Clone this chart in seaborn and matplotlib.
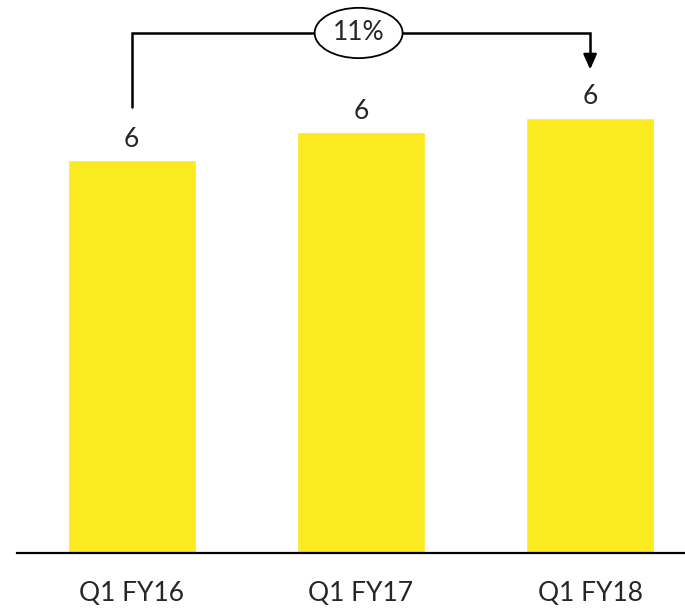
import matplotlib
matplotlib.use("Agg")
import matplotlib.pyplot as plt
import seaborn as sns
import pandas as pd

# Data
quarters = ["Q1 FY16", "Q1 FY17", "Q1 FY18"]
values = [5.6, 6.0, 6.2]
growth_label = "11%"

df = pd.DataFrame({"quarter": quarters, "value": values})

sns.set_style("white")
plt.rcParams["font.family"] = ["Lato", "DejaVu Sans"]

fig = plt.figure(figsize=(6.85, 6.12), dpi=100)
ax = fig.add_axes([0.025, 0.0964, 0.975, 0.9036])

sns.barplot(data=df, x="quarter", y="value", color="#FBEA1F",
            saturation=1, width=0.56, ax=ax)

ax.set_xlim(-0.5, 2.414)
ax.set_ylim(0, 7.88)

# value labels
for i, v in enumerate(values):
    ax.text(i, v + 0.12, f"{v:.0f}", ha="center", va="bottom", fontsize=19)

# growth bracket
y_top = 7.41
ax.plot([0, 0, 2, 2], [6.35, y_top, y_top, 7.0], color="black", lw=1.8,
        solid_joinstyle="miter", clip_on=False)
ax.annotate("", xy=(2, 6.85), xytext=(2, 7.1),
            arrowprops=dict(arrowstyle="-|>,head_length=0.9,head_width=0.4",
                            color="black", lw=1.8), annotation_clip=False)
ax.text(0.99, y_top, growth_label, ha="center", va="center", fontsize=19,
        bbox=dict(boxstyle="ellipse,pad=0.2", fc="white", ec="black", lw=1.3))

sns.despine(ax=ax, left=True, top=True, right=True)
ax.spines["bottom"].set_linewidth(1.6)
ax.spines["bottom"].set_color("black")
ax.set_yticks([])
ax.set_xlabel("")
ax.set_ylabel("")
ax.tick_params(axis="x", length=0, pad=20, labelsize=19)

fig.savefig("out.png", dpi=100)
